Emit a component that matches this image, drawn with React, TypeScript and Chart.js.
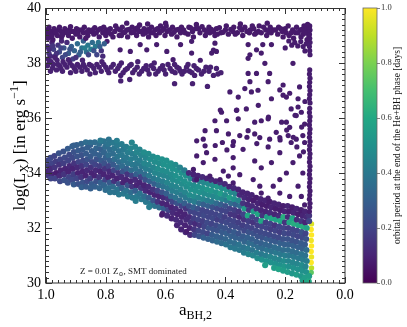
import React, { useEffect, useRef } from 'react';
import { Chart, registerables } from 'chart.js';

Chart.register(...registerables);

const FAMILY = "'Liberation Serif', 'DejaVu Serif', serif";

// ---- axes ----
const xTicks = [1.0, 0.8, 0.6, 0.4, 0.2, 0.0];
const yTicks = [30, 32, 34, 36, 38, 40];
const cbTicks = [0.0, 0.2, 0.4, 0.6, 0.8, 1.0];

// ---- data: [a_BH,2, log L_X] (period given per group) ----
const upperBandPeriod = 0.07;
const upperBand: number[][] = [
  [0.995,39.05],[0.993,38.9],[0.996,39.2],[0.985,39.15],[0.983,38.95],[0.975,39.1],[0.973,39.25],[0.977,38.85],[0.962,39.0],[0.958,39.2],
  [0.95,39.15],[0.948,38.95],[0.94,39.1],[0.937,39.25],[0.925,39.0],[0.922,39.2],[0.915,39.15],[0.912,38.9],[0.9,39.05],[0.898,39.25],
  [0.89,39.2],[0.887,38.95],[0.875,39.1],[0.872,39.3],[0.86,39.0],[0.857,39.2],[0.85,39.15],[0.84,39.05],[0.837,39.28],[0.825,39.2],
  [0.822,38.95],[0.81,39.1],[0.807,39.3],[0.8,39.0],[0.797,39.2],[0.785,39.25],[0.782,39.05],[0.77,39.15],[0.767,39.35],[0.755,39.0],
  [0.752,39.2],[0.745,39.3],[0.742,39.1],[0.73,39.2],[0.727,38.95],[0.715,39.1],[0.712,39.3],[0.7,39.25],[0.697,39.0],[0.69,39.15],
  [0.687,39.38],[0.675,39.05],[0.672,39.25],[0.66,39.2],[0.657,38.95],[0.65,39.1],[0.647,39.3],[0.635,39.2],[0.632,39.0],[0.62,39.1],
  [0.617,39.35],[0.605,39.25],[0.602,39.0],[0.595,39.15],[0.58,39.05],[0.577,39.3],[0.565,39.2],[0.562,38.95],[0.55,39.1],[0.547,39.3],
  [0.54,39.2],[0.525,39.05],[0.522,39.3],[0.51,39.15],[0.507,38.95],[0.5,39.25],[0.497,39.4],[0.485,39.1],[0.47,39.2],[0.467,39.0],
  [0.455,39.3],[0.452,39.1],[0.44,39.15],[0.43,39.25],[0.427,39.05],[0.415,39.1],[0.4,39.2],[0.397,39.35],[0.39,39.05],[0.375,39.15],
  [0.372,39.3],[0.36,39.1],[0.345,39.2],[0.342,39.0],[0.335,39.3],[0.32,39.1],[0.317,39.2],[0.305,39.25],[0.302,39.05],[0.29,39.15],
  [0.287,39.35],[0.28,39.1],[0.265,39.2],[0.262,39.0],[0.25,39.3],[0.247,39.1],[0.24,39.2],[0.225,39.05],[0.222,39.3],[0.21,39.15],
  [0.207,38.95],[0.2,39.25],[0.197,39.1],[0.19,39.35],[0.187,39.0],[0.175,39.2],[0.172,38.9],[0.165,39.1],[0.162,39.3],[0.15,39.2],
  [0.147,38.95],[0.14,39.05],[0.137,39.35],[0.13,39.25],[0.127,38.85],[0.122,39.15],[0.12,39.3],[0.121,39.0],
  [0.99,39.3],[0.98,39.0],[0.968,39.12],[0.955,39.3],[0.945,39.02],[0.93,39.12],[0.918,39.32],[0.905,39.15],[0.893,39.08],[0.88,39.2],
  [0.867,38.9],[0.863,39.12],[0.845,39.2],[0.832,39.1],[0.818,39.25],[0.803,39.12],[0.79,39.12],[0.776,38.95],[0.762,39.25],[0.748,39.0],
  [0.736,39.12],[0.722,39.22],[0.707,39.12],[0.693,39.28],[0.68,39.15],[0.667,39.1],[0.655,39.22],[0.642,39.1],[0.627,39.25],[0.612,39.18],
  [0.598,39.35],[0.587,39.2],[0.572,39.12],[0.557,39.22],[0.535,39.1],[0.517,39.28],[0.49,39.25],[0.478,39.32],[0.462,39.15],[0.447,39.22],
  [0.435,39.0],[0.42,39.28],[0.408,39.12],[0.382,39.22],[0.367,39.05],[0.352,39.28],[0.328,39.15],[0.31,39.35],[0.296,39.1],[0.272,39.3],
  [0.255,39.15],[0.232,39.2],[0.215,39.25],[0.18,39.1],[0.157,39.1],[0.143,39.22],[0.133,39.1],[0.125,39.4],
  [0.73,39.45],[0.66,39.42],[0.6,39.45],[0.35,39.42],[0.26,39.45]
];

const middleBandPeriod = 0.09;
const middleBand: number[][] = [
  [0.995,37.9],[0.993,38.15],[0.985,37.7],[0.983,38.05],[0.975,37.95],[0.965,37.75],[0.963,38.1],[0.955,37.9],[0.945,37.7],[0.943,38.05],
  [0.93,37.85],[0.92,38.0],[0.918,37.65],[0.905,37.8],[0.895,37.95],[0.88,37.7],[0.878,38.1],[0.87,37.85],[0.855,37.95],[0.853,37.6],
  [0.84,37.8],[0.83,37.95],[0.815,37.7],[0.813,38.05],[0.8,37.85],[0.79,37.65],[0.775,37.95],[0.76,37.8],[0.75,37.55],[0.748,38.0],
  [0.735,37.75],[0.72,37.9],[0.71,37.65],[0.695,37.85],[0.693,38.05],[0.68,37.7],[0.665,37.9],[0.655,37.6],[0.64,37.8],[0.638,38.0],
  [0.625,37.7],[0.61,37.9],[0.6,37.6],[0.585,37.8],[0.57,37.95],[0.568,37.65],[0.555,37.8],[0.545,37.6],[0.53,37.85],[0.52,37.7],
  [0.505,37.9],[0.503,37.55],[0.49,37.75],[0.48,37.6],[0.465,37.85],[0.455,37.7],[0.44,37.55],[0.43,37.8],[0.415,37.65],
  [0.75,37.35],[0.72,37.4],[0.57,37.25],[0.51,37.25],[0.46,37.15],
  [0.99,38.0],[0.978,37.82],[0.97,38.2],[0.96,37.95],[0.95,37.8],[0.937,37.95],[0.925,38.12],[0.912,37.9],[0.9,37.7],[0.887,37.85],
  [0.875,37.95],[0.862,37.75],[0.848,37.9],[0.835,37.65],[0.822,37.85],[0.807,37.95],[0.795,37.75],[0.782,37.85],[0.768,37.7],[0.755,37.9],
  [0.742,37.65],[0.728,37.8],[0.715,37.95],[0.703,37.75],[0.688,37.6],[0.673,37.8],[0.66,37.75],[0.648,37.9],[0.633,37.6],[0.618,37.8],
  [0.605,37.75],[0.592,37.95],[0.578,37.7],[0.562,37.85],[0.55,37.7],[0.537,37.7],[0.525,37.95],[0.512,37.65],[0.497,37.8],[0.472,37.7],
  [0.45,37.85],[0.425,37.6]
];

// [a, logL, period]
const leftFill: number[][] = [
  [0.995,38.6,0.12],[0.99,38.35,0.15],[0.98,38.75,0.1],[0.975,38.5,0.18],[0.97,38.25,0.2],[0.96,38.65,0.15],[0.955,38.4,0.22],
  [0.945,38.2,0.2],[0.94,38.55,0.25],[0.93,38.75,0.12],[0.925,38.35,0.28],[0.915,38.6,0.3],[0.91,38.15,0.18],[0.905,38.45,0.32],
  [0.895,38.7,0.35],[0.89,38.3,0.3],[0.88,38.55,0.38],[0.875,38.8,0.3],[0.865,38.4,0.35],[0.86,38.65,0.4],[0.85,38.5,0.42],
  [0.845,38.75,0.35],[0.835,38.6,0.4],[0.83,38.3,0.2],[0.825,38.75,0.38],[0.815,38.45,0.15],[0.805,38.7,0.3],
  [0.99,38.5,0.12],[0.985,38.25,0.12],[0.978,38.62,0.15],[0.965,38.35,0.15],[0.95,38.55,0.2],[0.948,38.8,0.1],[0.935,38.3,0.22],
  [0.92,38.5,0.25],[0.9,38.2,0.15],[0.885,38.4,0.3],[0.87,38.55,0.42],[0.858,38.3,0.2],[0.84,38.45,0.25],[0.82,38.6,0.3],[0.81,38.25,0.12]
];

const scatterPeriod = 0.08;
const scatterPts: number[][] = [
  [0.796,38.79],[0.752,38.48],[0.718,38.42],[0.685,38.67],[0.663,38.48],[0.63,38.67],[0.596,38.42],[0.575,38.12],[0.55,38.67],[0.513,38.36],
  [0.513,38.79],[0.2,38.55],[0.188,38.8],[0.178,38.65],[0.168,38.75],[0.158,38.62],[0.148,38.78],[0.14,38.6],[0.13,38.7],[0.134,38.44],
  [0.446,38.36],[0.43,38.42],[0.435,38.72],[0.324,38.67],[0.318,38.3],[0.324,38.17],[0.296,38.48],[0.28,38.36],[0.275,38.67],[0.246,38.67],
  [0.268,37.99],[0.252,37.62],[0.296,37.62],[0.324,37.62],[0.318,37.32],[0.335,37.07],[0.385,36.95],[0.357,36.76],[0.313,36.95],[0.291,37.01],
  [0.257,37.32],[0.207,37.2],[0.207,36.83],[0.196,36.76],[0.174,37.99],[0.152,37.13],[0.157,36.7],[0.246,36.7],[0.29,36.46],[0.33,36.33],
  [0.363,36.28],[0.413,36.21],[0.435,35.9],[0.43,35.54],[0.468,35.54],[0.474,35.23],[0.396,35.9],[0.39,35.42],[0.357,35.97],[0.352,35.36],
  [0.324,35.54],[0.302,35.85],[0.28,35.9],[0.257,35.97],[0.302,35.42],[0.285,35.29],[0.252,35.23],[0.23,35.48],[0.218,35.29],[0.196,35.85],
  [0.185,35.66],[0.18,36.33],[0.157,36.4],[0.163,36.09],[0.146,36.21],[0.135,35.78],[0.19,35.36],[0.18,35.11],[0.163,35.23],[0.141,35.36],
  [0.135,35.11],[0.41,35.11],[0.375,35.0],[0.496,35.17],[0.484,38.1],[0.44,38.47],[0.417,36.29],[0.362,36.29],[0.212,35.85],[0.134,36.6],
  [0.145,35.67],[0.434,35.0],[0.395,34.84],[0.373,35.14],[0.328,35.3],[0.295,35.07],[0.257,34.95],[0.217,35.2],[0.195,35.56],[0.173,35.3],
  [0.161,34.95],[0.139,34.77],[0.256,36.03],[0.167,36.1],[0.218,37.02],[0.185,36.9],
  [0.468,34.99],[0.463,34.74],[0.435,34.5],[0.496,34.62],[0.474,34.38],[0.507,34.13],[0.374,34.56],[0.341,34.86],[0.302,34.44],[0.28,34.19],
  [0.307,33.76],[0.28,33.27],[0.257,33.09],[0.218,34.74],[0.246,34.38],[0.218,33.76],[0.196,34.0],[0.174,34.38],[0.152,34.62],[0.141,34.0],
  [0.157,33.52],[0.185,33.15],[0.146,33.15],[0.135,32.84],[0.352,33.94],[0.374,34.19],[0.407,34.07],[0.285,33.52],[0.218,33.27],[0.24,33.52],
  [0.496,33.76],[0.452,33.89],[0.418,33.76],[0.39,33.89],[0.374,33.64],[0.613,32.47],[0.53,31.87]
];

const verticalLinePeriod = 0.08;
const verticalLine: number[][] = [
  [0.118,39.35],[0.117,39.2],[0.119,39.05],[0.118,38.9],[0.117,38.75],[0.119,38.6],[0.118,38.45],[0.117,38.3],[0.118,37.75],[0.119,37.6],
  [0.117,37.45],[0.118,37.3],[0.119,37.15],[0.117,37.0],[0.118,36.85],[0.119,36.7],[0.117,36.55],[0.118,36.35],[0.119,36.2],[0.117,36.05],
  [0.118,35.9],[0.119,35.75],[0.117,35.6],[0.118,35.45],[0.119,35.3],[0.117,35.15],[0.118,35.0],[0.119,34.85],[0.117,34.7],[0.118,34.55],
  [0.119,34.4],[0.117,34.25],[0.118,34.1],[0.119,33.95],[0.117,33.8],[0.118,33.65],[0.119,33.5],[0.117,33.35],[0.118,33.2],[0.119,33.05],
  [0.117,32.9],[0.118,32.75],[0.119,32.6]
];

const wedge: number[][] = [
  [0.997,34.45,0.2],[0.992,34.25,0.18],[0.996,34.05,0.1],[0.991,33.9,0.15],
  [0.985,34.55,0.22],[0.98,34.35,0.2],[0.986,34.15,0.12],[0.981,33.95,0.1],[0.984,33.8,0.2],
  [0.972,34.62,0.2],[0.967,34.42,0.18],[0.971,34.2,0.15],[0.966,34.0,0.08],[0.97,33.8,0.2],
  [0.957,34.72,0.25],[0.952,34.5,0.2],[0.956,34.3,0.15],[0.951,34.1,0.1],[0.955,33.9,0.12],[0.953,33.7,0.22],
  [0.942,34.78,0.25],[0.937,34.56,0.22],[0.941,34.35,0.18],[0.936,34.15,0.1],[0.94,33.95,0.15],[0.938,33.74,0.25],
  [0.927,34.88,0.28],[0.922,34.66,0.22],[0.926,34.45,0.2],[0.921,34.25,0.12],[0.925,34.05,0.1],[0.923,33.85,0.2],[0.927,33.65,0.25],
  [0.912,34.97,0.3],[0.907,34.76,0.25],[0.911,34.55,0.22],[0.906,34.35,0.15],[0.91,34.15,0.1],[0.908,33.95,0.18],[0.912,33.75,0.22],[0.907,33.58,0.28],
  [0.897,35.02,0.3],[0.892,34.82,0.28],[0.896,34.6,0.25],[0.891,34.4,0.2],[0.895,34.2,0.12],[0.893,34.0,0.1],[0.897,33.8,0.2],[0.892,33.6,0.25],
  [0.882,35.06,0.32],[0.877,34.86,0.28],[0.881,34.65,0.25],[0.876,34.45,0.22],[0.88,34.25,0.15],[0.878,34.05,0.1],[0.882,33.85,0.15],[0.877,33.65,0.25],[0.881,33.48,0.3],
  [0.867,35.12,0.35],[0.862,34.92,0.3],[0.866,34.7,0.28],[0.861,34.5,0.25],[0.865,34.3,0.2],[0.863,34.1,0.12],[0.867,33.9,0.1],[0.862,33.7,0.22],[0.866,33.5,0.28],
  [0.852,35.02,0.3],[0.847,34.8,0.3],[0.851,34.6,0.28],[0.846,34.4,0.22],[0.85,34.2,0.15],[0.848,34.0,0.1],[0.852,33.8,0.18],[0.847,33.6,0.28],[0.851,33.44,0.3],
  [0.837,35.12,0.35],[0.832,34.9,0.32],[0.836,34.7,0.3],[0.831,34.5,0.25],[0.835,34.3,0.2],[0.833,34.1,0.12],[0.837,33.9,0.1],[0.832,33.7,0.25],[0.836,33.5,0.3],
  [0.822,35.06,0.35],[0.817,34.86,0.3],[0.821,34.65,0.3],[0.816,34.45,0.28],[0.82,34.25,0.18],[0.818,34.05,0.1],[0.822,33.85,0.15],[0.817,33.65,0.3],[0.821,33.45,0.32],
  [0.807,35.15,0.38],[0.802,34.95,0.35],[0.806,34.75,0.32],[0.801,34.55,0.3],[0.805,34.35,0.25],[0.803,34.15,0.15],[0.807,33.95,0.1],[0.802,33.75,0.2],[0.806,33.55,0.32],[0.801,33.38,0.35],
  [0.792,35.05,0.38],[0.787,34.85,0.35],[0.791,34.65,0.35],[0.786,34.45,0.3],[0.79,34.25,0.2],[0.788,34.05,0.12],[0.792,33.85,0.1],[0.787,33.65,0.28],[0.791,33.45,0.35],[0.786,33.3,0.38],
  [0.777,35.1,0.4],[0.772,34.9,0.38],[0.776,34.7,0.35],[0.771,34.5,0.35],[0.775,34.3,0.28],[0.773,34.1,0.2],[0.777,33.9,0.1],[0.772,33.7,0.15],[0.776,33.5,0.35],[0.771,33.3,0.38],
  [0.762,35.0,0.4],[0.757,34.8,0.38],[0.761,34.6,0.38],[0.756,34.4,0.35],[0.76,34.2,0.3],[0.758,34.0,0.15],[0.762,33.8,0.1],[0.757,33.6,0.25],[0.761,33.4,0.38],[0.756,33.22,0.4],
  [0.747,35.05,0.42],[0.742,34.85,0.4],[0.746,34.65,0.4],[0.741,34.45,0.38],[0.745,34.25,0.35],[0.743,34.05,0.25],[0.747,33.85,0.12],[0.742,33.65,0.1],[0.746,33.45,0.3],[0.741,33.25,0.4],
  [0.732,34.95,0.42],[0.727,34.75,0.42],[0.731,34.55,0.4],[0.726,34.35,0.38],[0.73,34.15,0.3],[0.728,33.95,0.15],[0.732,33.75,0.1],[0.727,33.55,0.25],[0.731,33.35,0.38],[0.726,33.15,0.42],
  [0.717,34.9,0.45],[0.712,34.7,0.42],[0.716,34.5,0.42],[0.711,34.3,0.4],[0.715,34.1,0.35],[0.713,33.9,0.2],[0.717,33.7,0.1],[0.712,33.5,0.15],[0.716,33.3,0.35],[0.711,33.1,0.4],
  [0.702,34.95,0.45],[0.697,34.75,0.45],[0.701,34.55,0.42],[0.696,34.35,0.4],[0.7,34.15,0.38],[0.698,33.95,0.3],[0.702,33.75,0.12],[0.697,33.55,0.1],[0.701,33.35,0.3],[0.696,33.15,0.4],[0.7,32.98,0.42],
  [0.687,34.85,0.45],[0.682,34.65,0.45],[0.686,34.45,0.42],[0.681,34.25,0.4],[0.685,34.05,0.35],[0.683,33.85,0.2],[0.687,33.65,0.1],[0.682,33.45,0.15],[0.686,33.25,0.38],[0.681,33.05,0.4],
  [0.672,34.75,0.48],[0.667,34.55,0.45],[0.671,34.35,0.45],[0.666,34.15,0.42],[0.67,33.95,0.35],[0.668,33.75,0.25],[0.672,33.55,0.1],[0.667,33.35,0.12],[0.671,33.15,0.35],[0.666,32.95,0.4],
  [0.657,34.7,0.48],[0.652,34.5,0.48],[0.656,34.3,0.45],[0.651,34.1,0.42],[0.655,33.9,0.4],[0.653,33.7,0.3],[0.657,33.5,0.12],[0.652,33.3,0.1],[0.656,33.1,0.3],[0.651,32.9,0.4],[0.655,32.76,0.42],
  [0.642,34.6,0.48],[0.637,34.4,0.48],[0.641,34.2,0.45],[0.636,34.0,0.45],[0.64,33.8,0.4],[0.638,33.6,0.3],[0.642,33.4,0.15],[0.637,33.2,0.1],[0.641,33.0,0.25],[0.636,32.8,0.38],
  [0.627,34.55,0.5],[0.622,34.35,0.48],[0.626,34.15,0.48],[0.621,33.95,0.45],[0.625,33.75,0.42],[0.623,33.55,0.35],[0.627,33.35,0.2],[0.622,33.15,0.1],[0.626,32.95,0.15],[0.621,32.75,0.35],
  [0.612,34.5,0.5],[0.607,34.3,0.5],[0.611,34.1,0.48],[0.606,33.9,0.45],[0.61,33.7,0.42],[0.608,33.5,0.38],[0.612,33.3,0.25],[0.607,33.1,0.12],[0.611,32.9,0.1],[0.606,32.7,0.3],[0.61,32.52,0.1],
  [0.597,34.45,0.5],[0.592,34.25,0.5],[0.596,34.05,0.48],[0.591,33.85,0.45],[0.595,33.65,0.45],[0.593,33.45,0.4],[0.597,33.25,0.3],[0.592,33.05,0.15],[0.596,32.85,0.1],[0.591,32.65,0.2],[0.595,32.45,0.12],
  [0.582,34.35,0.5],[0.577,34.15,0.5],[0.581,33.95,0.48],[0.576,33.75,0.48],[0.58,33.55,0.45],[0.578,33.35,0.42],[0.582,33.15,0.35],[0.577,32.95,0.2],[0.581,32.75,0.1],[0.576,32.55,0.12],[0.58,32.35,0.1],
  [0.567,34.3,0.48],[0.562,34.1,0.5],[0.566,33.9,0.5],[0.561,33.7,0.48],[0.565,33.5,0.45],[0.563,33.3,0.42],[0.567,33.1,0.38],[0.562,32.9,0.25],[0.566,32.7,0.12],[0.561,32.5,0.1],[0.565,32.3,0.12],[0.562,32.1,0.1],
  [0.552,34.2,0.45],[0.547,34.0,0.5],[0.551,33.8,0.5],[0.546,33.6,0.48],[0.55,33.4,0.45],[0.548,33.2,0.4],[0.552,33.0,0.35],[0.547,32.8,0.2],[0.551,32.6,0.1],[0.546,32.4,0.1],[0.55,32.2,0.12],[0.548,31.95,0.1],
  [0.537,34.1,0.42],[0.532,33.9,0.5],[0.536,33.7,0.5],[0.531,33.5,0.48],[0.535,33.3,0.45],[0.533,33.1,0.4],[0.537,32.9,0.3],[0.532,32.7,0.15],[0.536,32.5,0.1],[0.531,32.3,0.12],[0.535,32.1,0.1],[0.533,31.85,0.12],
  [0.522,34.0,0.12],[0.517,33.8,0.45],[0.521,33.6,0.5],[0.516,33.4,0.5],[0.52,33.2,0.48],[0.518,33.0,0.4],[0.522,32.8,0.25],[0.517,32.6,0.2],[0.521,32.4,0.12],[0.516,32.2,0.15],[0.52,32.0,0.1],[0.518,31.75,0.12],
  [0.507,33.95,0.1],[0.502,33.75,0.15],[0.506,33.55,0.48],[0.501,33.35,0.5],[0.505,33.15,0.48],[0.503,32.95,0.42],[0.507,32.75,0.3],[0.502,32.55,0.2],[0.506,32.35,0.18],[0.501,32.15,0.12],[0.505,31.95,0.15],[0.503,31.75,0.2],
  [0.492,33.9,0.1],[0.487,33.7,0.45],[0.491,33.5,0.5],[0.486,33.3,0.5],[0.49,33.1,0.45],[0.488,32.9,0.35],[0.492,32.7,0.25],[0.487,32.5,0.2],[0.491,32.3,0.2],[0.486,32.1,0.15],[0.49,31.9,0.2],[0.488,31.7,0.25],
  [0.477,33.85,0.12],[0.472,33.65,0.46],[0.476,33.45,0.5],[0.471,33.25,0.48],[0.475,33.05,0.45],[0.473,32.85,0.3],[0.477,32.65,0.2],[0.472,32.45,0.22],[0.476,32.25,0.18],[0.471,32.05,0.2],[0.475,31.85,0.22],[0.473,31.65,0.3],
  [0.462,33.8,0.1],[0.457,33.6,0.48],[0.461,33.4,0.52],[0.456,33.2,0.48],[0.46,33.0,0.42],[0.458,32.8,0.3],[0.462,32.6,0.2],[0.457,32.4,0.2],[0.461,32.2,0.22],[0.456,32.0,0.25],[0.46,31.8,0.2],[0.458,31.6,0.3],
  [0.447,33.75,0.12],[0.442,33.55,0.48],[0.446,33.35,0.52],[0.441,33.15,0.46],[0.445,32.95,0.4],[0.443,32.75,0.25],[0.447,32.55,0.2],[0.442,32.35,0.22],[0.446,32.15,0.2],[0.441,31.95,0.25],[0.445,31.75,0.28],[0.443,31.55,0.32],
  [0.432,33.7,0.1],[0.427,33.5,0.52],[0.431,33.3,0.5],[0.426,33.1,0.48],[0.43,32.9,0.35],[0.428,32.7,0.22],[0.432,32.5,0.2],[0.427,32.3,0.18],[0.431,32.1,0.22],[0.426,31.9,0.25],[0.43,31.7,0.3],[0.428,31.5,0.35],
  [0.417,33.65,0.15],[0.412,33.45,0.48],[0.416,33.25,0.55],[0.411,33.05,0.45],[0.415,32.85,0.3],[0.413,32.65,0.2],[0.417,32.45,0.22],[0.412,32.25,0.2],[0.416,32.05,0.25],[0.411,31.85,0.28],[0.415,31.65,0.3],[0.413,31.45,0.35],
  [0.402,33.6,0.12],[0.397,33.4,0.5],[0.401,33.2,0.48],[0.396,33.0,0.4],[0.4,32.8,0.25],[0.398,32.6,0.2],[0.402,32.4,0.18],[0.397,32.2,0.22],[0.401,32.0,0.25],[0.396,31.8,0.3],[0.4,31.6,0.32],[0.398,31.4,0.38],
  [0.387,33.5,0.1],[0.382,33.3,0.48],[0.386,33.1,0.55],[0.381,32.9,0.35],[0.385,32.7,0.2],[0.383,32.5,0.15],[0.387,32.3,0.2],[0.382,32.1,0.22],[0.386,31.9,0.25],[0.381,31.7,0.3],[0.385,31.5,0.35],[0.383,31.3,0.4],
  [0.372,33.45,0.12],[0.367,33.25,0.45],[0.371,33.05,0.5],[0.366,32.85,0.3],[0.37,32.65,0.18],[0.368,32.45,0.15],[0.372,32.25,0.2],[0.367,32.05,0.22],[0.371,31.85,0.28],[0.366,31.65,0.3],[0.37,31.45,0.35],[0.368,31.25,0.4],
  [0.357,33.4,0.1],[0.352,33.2,0.12],[0.356,33.0,0.45],[0.351,32.8,0.35],[0.355,32.6,0.15],[0.353,32.4,0.12],[0.357,32.2,0.18],[0.352,32.0,0.22],[0.356,31.8,0.25],[0.351,31.6,0.3],[0.355,31.4,0.38],[0.353,31.2,0.4],
  [0.342,33.3,0.1],[0.337,33.1,0.12],[0.341,32.9,0.15],[0.336,32.7,0.55],[0.34,32.5,0.2],[0.338,32.3,0.15],[0.342,32.1,0.18],[0.337,31.9,0.22],[0.341,31.7,0.28],[0.336,31.5,0.32],[0.34,31.3,0.38],[0.338,31.1,0.42],
  [0.327,33.25,0.1],[0.322,33.05,0.1],[0.326,32.85,0.12],[0.321,32.65,0.15],[0.325,32.45,0.6],[0.323,32.25,0.18],[0.327,32.05,0.2],[0.322,31.85,0.25],[0.326,31.65,0.3],[0.321,31.45,0.35],[0.325,31.25,0.4],[0.323,31.05,0.45],
  [0.312,33.2,0.1],[0.307,33.0,0.08],[0.311,32.8,0.12],[0.306,32.6,0.55],[0.31,32.4,0.2],[0.308,32.2,0.15],[0.312,32.0,0.2],[0.307,31.8,0.25],[0.311,31.6,0.3],[0.306,31.4,0.35],[0.31,31.2,0.38],[0.308,31.0,0.45],
  [0.297,33.1,0.08],[0.292,32.9,0.1],[0.296,32.7,0.12],[0.291,32.5,0.6],[0.295,32.3,0.2],[0.293,32.1,0.18],[0.297,31.9,0.22],[0.292,31.7,0.25],[0.296,31.5,0.3],[0.291,31.3,0.35],[0.295,31.1,0.42],[0.293,30.9,0.48],
  [0.282,33.05,0.1],[0.277,32.85,0.08],[0.281,32.65,0.1],[0.276,32.45,0.15],[0.28,32.25,0.6],[0.278,32.05,0.2],[0.282,31.85,0.22],[0.277,31.65,0.25],[0.281,31.45,0.3],[0.276,31.25,0.35],[0.28,31.05,0.4],[0.278,30.85,0.5],
  [0.267,33.0,0.1],[0.262,32.8,0.08],[0.266,32.6,0.1],[0.261,32.4,0.55],[0.265,32.2,0.18],[0.263,32.0,0.2],[0.267,31.8,0.22],[0.262,31.6,0.28],[0.266,31.4,0.32],[0.261,31.2,0.38],[0.265,31.0,0.42],[0.263,30.8,0.5],[0.267,30.65,0.55],
  [0.252,32.95,0.08],[0.247,32.75,0.1],[0.251,32.55,0.12],[0.246,32.35,0.6],[0.25,32.15,0.2],[0.248,31.95,0.18],[0.252,31.75,0.22],[0.247,31.55,0.28],[0.251,31.35,0.32],[0.246,31.15,0.38],[0.25,30.95,0.45],[0.248,30.75,0.5],
  [0.237,32.9,0.1],[0.232,32.7,0.08],[0.236,32.5,0.1],[0.231,32.3,0.58],[0.235,32.1,0.15],[0.233,31.9,0.2],[0.237,31.7,0.22],[0.232,31.5,0.28],[0.236,31.3,0.35],[0.231,31.1,0.4],[0.235,30.9,0.45],[0.233,30.7,0.5],[0.237,30.55,0.55],
  [0.222,32.85,0.1],[0.217,32.65,0.08],[0.221,32.45,0.12],[0.216,32.25,0.6],[0.22,32.05,0.2],[0.218,31.85,0.18],[0.222,31.65,0.22],[0.217,31.45,0.3],[0.221,31.25,0.35],[0.216,31.05,0.4],[0.22,30.85,0.45],[0.218,30.65,0.5],[0.222,30.5,0.58],
  [0.207,32.8,0.08],[0.202,32.6,0.1],[0.206,32.4,0.62],[0.201,32.2,0.15],[0.205,32.0,0.2],[0.203,31.8,0.22],[0.207,31.6,0.25],[0.202,31.4,0.3],[0.206,31.2,0.35],[0.201,31.0,0.42],[0.205,30.8,0.48],[0.203,30.6,0.52],[0.207,30.45,0.55],
  [0.192,32.8,0.1],[0.187,32.6,0.08],[0.191,32.4,0.12],[0.186,32.2,0.6],[0.19,32.0,0.18],[0.188,31.8,0.2],[0.192,31.6,0.25],[0.187,31.4,0.3],[0.191,31.2,0.35],[0.186,31.0,0.4],[0.19,30.8,0.45],[0.188,30.6,0.5],[0.192,30.4,0.55],
  [0.177,32.75,0.08],[0.172,32.55,0.1],[0.176,32.35,0.58],[0.171,32.15,0.62],[0.175,31.95,0.2],[0.173,31.75,0.22],[0.177,31.55,0.25],[0.172,31.35,0.3],[0.176,31.15,0.35],[0.171,30.95,0.4],[0.175,30.75,0.45],[0.173,30.55,0.5],[0.177,30.35,0.52],
  [0.162,32.7,0.1],[0.157,32.5,0.08],[0.161,32.3,0.12],[0.156,32.1,0.6],[0.16,31.9,0.2],[0.158,31.7,0.2],[0.162,31.5,0.25],[0.157,31.3,0.3],[0.161,31.1,0.35],[0.156,30.9,0.4],[0.16,30.7,0.45],[0.158,30.5,0.5],[0.162,30.3,0.55],
  [0.147,32.65,0.08],[0.142,32.45,0.1],[0.146,32.25,0.15],[0.141,32.05,0.62],[0.145,31.85,0.25],[0.143,31.65,0.22],[0.147,31.45,0.28],[0.142,31.25,0.3],[0.146,31.05,0.38],[0.141,30.85,0.42],[0.145,30.65,0.48],[0.143,30.45,0.5],[0.147,30.25,0.52],[0.142,30.1,0.55],
  [0.134,32.6,0.1],[0.129,32.4,0.12],[0.133,32.2,0.1],[0.128,32.0,0.58],[0.132,31.8,0.2],[0.13,31.6,0.25],[0.134,31.4,0.28],[0.129,31.2,0.35],[0.133,31.0,0.38],[0.128,30.8,0.42],[0.132,30.6,0.45],[0.13,30.4,0.5],[0.134,30.2,0.55],[0.129,30.02,0.6],
  [0.907,35.0,0.3],[0.852,35.11,0.35],[0.818,35.18,0.4],[0.79,35.22,0.38],[0.763,35.17,0.42],[0.713,35.11,0.45],
  [0.12,32.45,0.15],[0.12,32.25,0.2],[0.12,30.25,0.55],[0.121,30.05,0.6],[0.119,29.9,0.55]
];

const yellowStrip: number[][] = [
  [0.112,32.15,0.95],[0.113,31.95,1.0],[0.112,31.75,1.0],[0.113,31.55,0.98],[0.112,31.35,1.0],[0.113,31.15,1.0],
  [0.112,30.95,0.97],[0.113,30.75,1.0],[0.112,30.55,0.9],[0.113,30.38,0.75]
];

// ---- colormap (style) ----
const VIRIDIS = ['#440154','#482475','#414487','#355f8d','#2a788e','#21918c','#22a884','#44bf70','#7ad151','#bddf26','#fde725'];

function hexToRgb(h: string) {
  return [parseInt(h.slice(1, 3), 16), parseInt(h.slice(3, 5), 16), parseInt(h.slice(5, 7), 16)];
}
function viridis(t: number) {
  const v = Math.max(0, Math.min(1, t)) * (VIRIDIS.length - 1);
  const i = Math.min(Math.floor(v), VIRIDIS.length - 2);
  const f = v - i;
  const a = hexToRgb(VIRIDIS[i]);
  const b = hexToRgb(VIRIDIS[i + 1]);
  const c = a.map((x, k) => Math.round(x + (b[k] - x) * f));
  return `rgb(${c[0]},${c[1]},${c[2]})`;
}

type Part = { t: string; size: number; dy: number };
function drawRich(ctx: CanvasRenderingContext2D, parts: Part[], x: number, y: number, align: 'left' | 'center') {
  let total = 0;
  const widths = parts.map((p) => {
    ctx.font = `${p.size}px ${FAMILY}`;
    const w = ctx.measureText(p.t).width;
    total += w;
    return w;
  });
  let cx = align === 'center' ? x - total / 2 : x;
  ctx.textAlign = 'left';
  ctx.textBaseline = 'alphabetic';
  parts.forEach((p, i) => {
    ctx.font = `${p.size}px ${FAMILY}`;
    ctx.fillText(p.t, cx, y + p.dy);
    cx += widths[i];
  });
}

const decorPlugin = {
  id: 'decor',
  afterDraw(chart: any) {
    const { ctx, chartArea: ca, scales } = chart;
    const xs = scales.x, ys = scales.y, cb = scales.cb;
    ctx.save();
    // frame
    ctx.strokeStyle = '#333';
    ctx.lineWidth = 1;
    ctx.strokeRect(Math.round(ca.left) - 0.5, Math.round(ca.top) + 0.5, Math.round(ca.right - ca.left) + 0.5, Math.round(ca.bottom - ca.top) - 0.5);
    // ticks (inward, all four sides)
    ctx.beginPath();
    const tickX = (v: number, len: number) => {
      const px = Math.round(xs.getPixelForValue(v)) + 0.5;
      ctx.moveTo(px, ca.bottom); ctx.lineTo(px, ca.bottom - len);
      ctx.moveTo(px, ca.top); ctx.lineTo(px, ca.top + len);
    };
    const tickY = (v: number, len: number) => {
      const py = Math.round(ys.getPixelForValue(v)) + 0.5;
      ctx.moveTo(ca.left, py); ctx.lineTo(ca.left + len, py);
      ctx.moveTo(ca.right, py); ctx.lineTo(ca.right - len, py);
    };
    for (let k = 1; k < 50; k++) if (k % 10 !== 0) tickX(k / 50, 3);
    xTicks.forEach((v) => tickX(v, 6));
    for (let k = 1; k < 50; k++) if (k % 10 !== 0) tickY(30 + k / 5, 3);
    yTicks.forEach((v) => tickY(v, 6));
    ctx.stroke();

    // colorbar
    const cbL = ca.right + 18, cbW = 14;
    const cbTop = cb.getPixelForValue(1), cbBot = cb.getPixelForValue(0);
    const g = ctx.createLinearGradient(0, cbBot, 0, cbTop);
    VIRIDIS.forEach((c, i) => g.addColorStop(i / (VIRIDIS.length - 1), c));
    ctx.fillStyle = g;
    ctx.fillRect(cbL, cbTop, cbW, cbBot - cbTop);
    ctx.strokeStyle = '#666';
    ctx.lineWidth = 0.8;
    ctx.strokeRect(cbL, cbTop, cbW, cbBot - cbTop);
    ctx.beginPath();
    cbTicks.forEach((v) => {
      const py = Math.round(cb.getPixelForValue(v)) + 0.5;
      ctx.moveTo(cbL + cbW, py); ctx.lineTo(cbL + cbW + 3, py);
    });
    ctx.stroke();

    ctx.fillStyle = '#111';
    // colorbar title
    ctx.save();
    ctx.translate(400, (cbTop + cbBot) / 2);
    ctx.rotate(-Math.PI / 2);
    drawRich(ctx, [{ t: 'orbital period at the end of the He+BH phase [days]', size: 9.5, dy: 0 }], 0, 0, 'center');
    ctx.restore();

    // y title
    ctx.fillStyle = '#000';
    ctx.save();
    ctx.translate(25, (ca.top + ca.bottom) / 2);
    ctx.rotate(-Math.PI / 2);
    drawRich(ctx, [
      { t: 'log(L', size: 17, dy: 0 },
      { t: 'X', size: 12, dy: 3 },
      { t: ') [in erg s', size: 17, dy: 0 },
      { t: '\u22121', size: 12, dy: -7 },
      { t: ']', size: 17, dy: 0 },
    ], 0, 0, 'center');
    ctx.restore();

    // x title
    drawRich(ctx, [
      { t: 'a', size: 17, dy: 0 },
      { t: 'BH,2', size: 12, dy: 4 },
    ], (ca.left + ca.right) / 2, 315, 'center');

    // annotation
    ctx.fillStyle = '#222';
    drawRich(ctx, [
      { t: 'Z = 0.01 Z', size: 9, dy: 0 },
      { t: '\u2299', size: 6, dy: 2 },
      { t: ', SMT dominated', size: 9, dy: 0 },
    ], 80, 274, 'left');
    ctx.restore();
  },
};

function toDataset(rows: number[][], period: number | null, radius: number) {
  return {
    data: rows.map((r) => ({ x: r[0], y: r[1] })),
    pointBackgroundColor: rows.map((r) => viridis(period === null ? r[2] : period)),
    pointBorderWidth: 0,
    pointRadius: radius,
    pointHoverRadius: radius,
    showLine: false,
  };
}

const zeroPad = (s: any) => {
  s.paddingTop = 0;
  s.paddingBottom = 0;
  s.paddingLeft = 0;
  s.paddingRight = 0;
};

export default function App() {
  const ref = useRef<HTMLCanvasElement | null>(null);

  useEffect(() => {
    if (!ref.current) return;
    const tickFont = { family: FAMILY, size: 14 };
    const chart = new Chart(ref.current, {
      type: 'scatter',
      data: {
        datasets: [
          toDataset(upperBand, upperBandPeriod, 2.7),
          toDataset(middleBand, middleBandPeriod, 2.7),
          toDataset(leftFill, null, 2.7),
          toDataset(scatterPts, scatterPeriod, 2.6),
          toDataset(verticalLine, verticalLinePeriod, 2.6),
          toDataset(wedge, null, 3.05),
          toDataset(yellowStrip, null, 2.7),
        ] as any,
      },
      options: {
        responsive: false,
        animation: false,
        devicePixelRatio: 1,
        events: [],
        layout: { padding: { left: 0, right: 0, top: 8, bottom: 0 } },
        plugins: { legend: { display: false }, tooltip: { enabled: false } },
        scales: {
          x: {
            type: 'linear',
            min: 0,
            max: 1,
            reverse: true,
            grid: { display: false, drawTicks: false },
            border: { display: false },
            afterBuildTicks: (s: any) => { s.ticks = xTicks.map((v) => ({ value: v })); },
            ticks: {
              font: tickFont,
              color: '#000',
              padding: 4,
              maxRotation: 0,
              autoSkip: false,
              callback: (v: any) => Number(v).toFixed(1),
            },
            afterFit: (s: any) => { s.height = 44; zeroPad(s); },
          },
          y: {
            type: 'linear',
            position: 'left',
            min: 30,
            max: 40,
            grid: { display: false, drawTicks: false },
            border: { display: false },
            afterBuildTicks: (s: any) => { s.ticks = yTicks.map((v) => ({ value: v })); },
            ticks: { font: tickFont, color: '#000', padding: 5, autoSkip: false },
            afterFit: (s: any) => { s.width = 46; zeroPad(s); },
          },
          cb: {
            type: 'linear',
            axis: 'y',
            position: 'right',
            min: 0,
            max: 1,
            grid: { display: false, drawTicks: false },
            border: { display: false },
            afterBuildTicks: (s: any) => { s.ticks = cbTicks.map((v) => ({ value: v })); },
            ticks: {
              font: { family: FAMILY, size: 8.5 },
              color: '#333',
              padding: 36,
              autoSkip: false,
              callback: (v: any) => Number(v).toFixed(1),
            },
            afterFit: (s: any) => { s.width = 62; zeroPad(s); },
          },
        },
      } as any,
      plugins: [decorPlugin],
    });
    return () => chart.destroy();
  }, []);

  return (
    <div style={{ position: 'fixed', left: 0, top: 0, width: 407, height: 327, background: '#fff' }}>
      <canvas ref={ref} width={407} height={327} style={{ display: 'block', width: 407, height: 327 }} />
    </div>
  );
}
